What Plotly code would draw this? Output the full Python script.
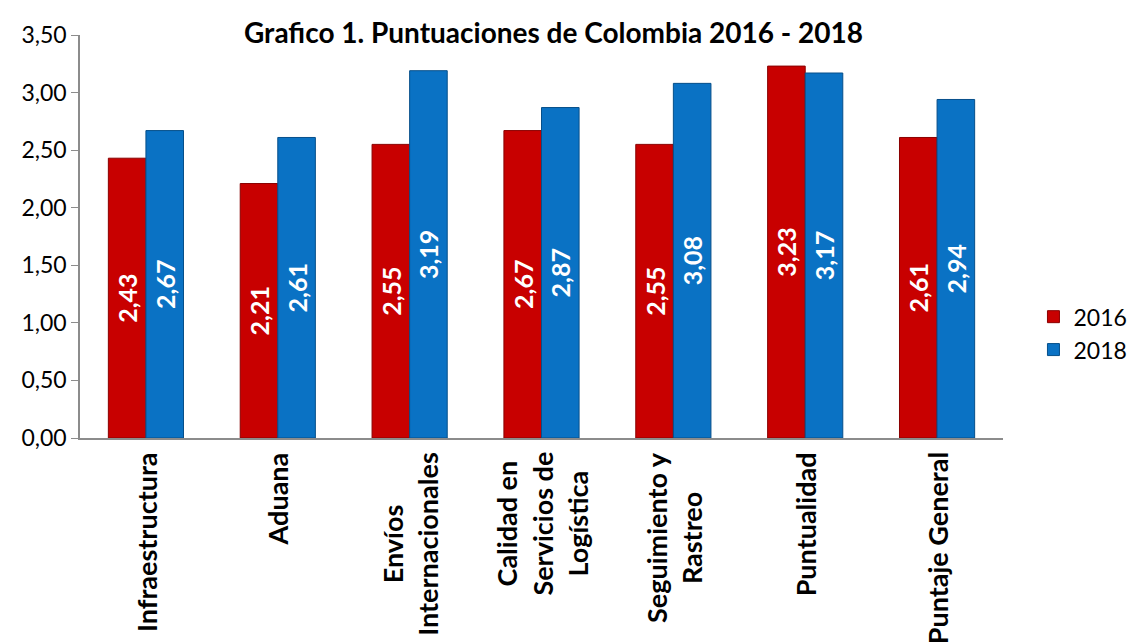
import plotly.graph_objects as go

categories = ["Infraestructura", "Aduana", "Envíos Internacionales",
              "Calidad en Servicios de Logística", "Seguimiento y Rastreo",
              "Puntualidad", "Puntaje General"]
category_labels = ["Infraestructura", "Aduana", "Envíos<br>Internacionales",
                   "Calidad en<br>Servicios de<br>Logística", "Seguimiento y<br>Rastreo",
                   "Puntualidad", "Puntaje General"]
vals_2016 = [2.43, 2.21, 2.55, 2.67, 2.55, 3.23, 2.61]
vals_2018 = [2.67, 2.61, 3.19, 2.87, 3.08, 3.17, 2.94]
tick_vals = [0, 0.5, 1, 1.5, 2, 2.5, 3, 3.5]
title_text = "Grafico 1. Puntuaciones de Colombia 2016 - 2018"

FONT = "Lato"

fig = go.Figure()
for name, vals, col, lc in [("2016", vals_2016, "#C80000", "#8A0000"),
                            ("2018", vals_2018, "#0A72C4", "#064F8A")]:
    fig.add_trace(go.Bar(
        x=categories, y=vals, name=name, legendgroup=name,
        marker=dict(color=col, line=dict(color=lc, width=1)),
        text=[f"{v:.2f}".replace(".", ",") for v in vals],
        textposition="inside", insidetextanchor="middle", textangle=-90,
        textfont=dict(color="white", size=25, family=FONT, weight="bold"),
    ))

for cat, lab in zip(categories, category_labels):
    fig.add_annotation(x=cat, xref="x", y=-0.03, yref="paper",
                       text=f"<b>{lab}</b>", textangle=-90, showarrow=False,
                       xanchor="center", yanchor="top", align="center",
                       font=dict(size=27, family=FONT, color="black"))

fig.add_annotation(x=0.513, xref="paper", y=1.0075, yref="paper",
                   text=f"<b>{title_text}</b>", showarrow=False,
                   xanchor="center", yanchor="middle",
                   font=dict(size=28, family=FONT, color="black"))

fig.update_layout(
    width=1136, height=644,
    margin=dict(l=72, r=124, t=20, b=214),
    paper_bgcolor="white", plot_bgcolor="white",
    separators=",.",
    barmode="group", bargap=0.43, bargroupgap=0.0,
    font=dict(family=FONT, color="black"),
    legend=dict(x=1.033, xanchor="left", y=0.26, yanchor="middle",
                font=dict(size=23, family=FONT), itemwidth=30,
                tracegroupgap=36, traceorder="normal"),
    showlegend=True,
)
fig.update_yaxes(range=[0, 3.5], tickvals=tick_vals, tickformat=".2f",
                 showgrid=False, showline=True, linecolor="#8C8C8C", linewidth=1.5,
                 ticks="outside", ticklen=7, tickcolor="#8C8C8C",
                 tickfont=dict(size=23, family=FONT), zeroline=False)
fig.update_xaxes(showline=True, linecolor="#8C8C8C", linewidth=1.5, ticks="",
                 showticklabels=False)

fig.write_html("out.html")
